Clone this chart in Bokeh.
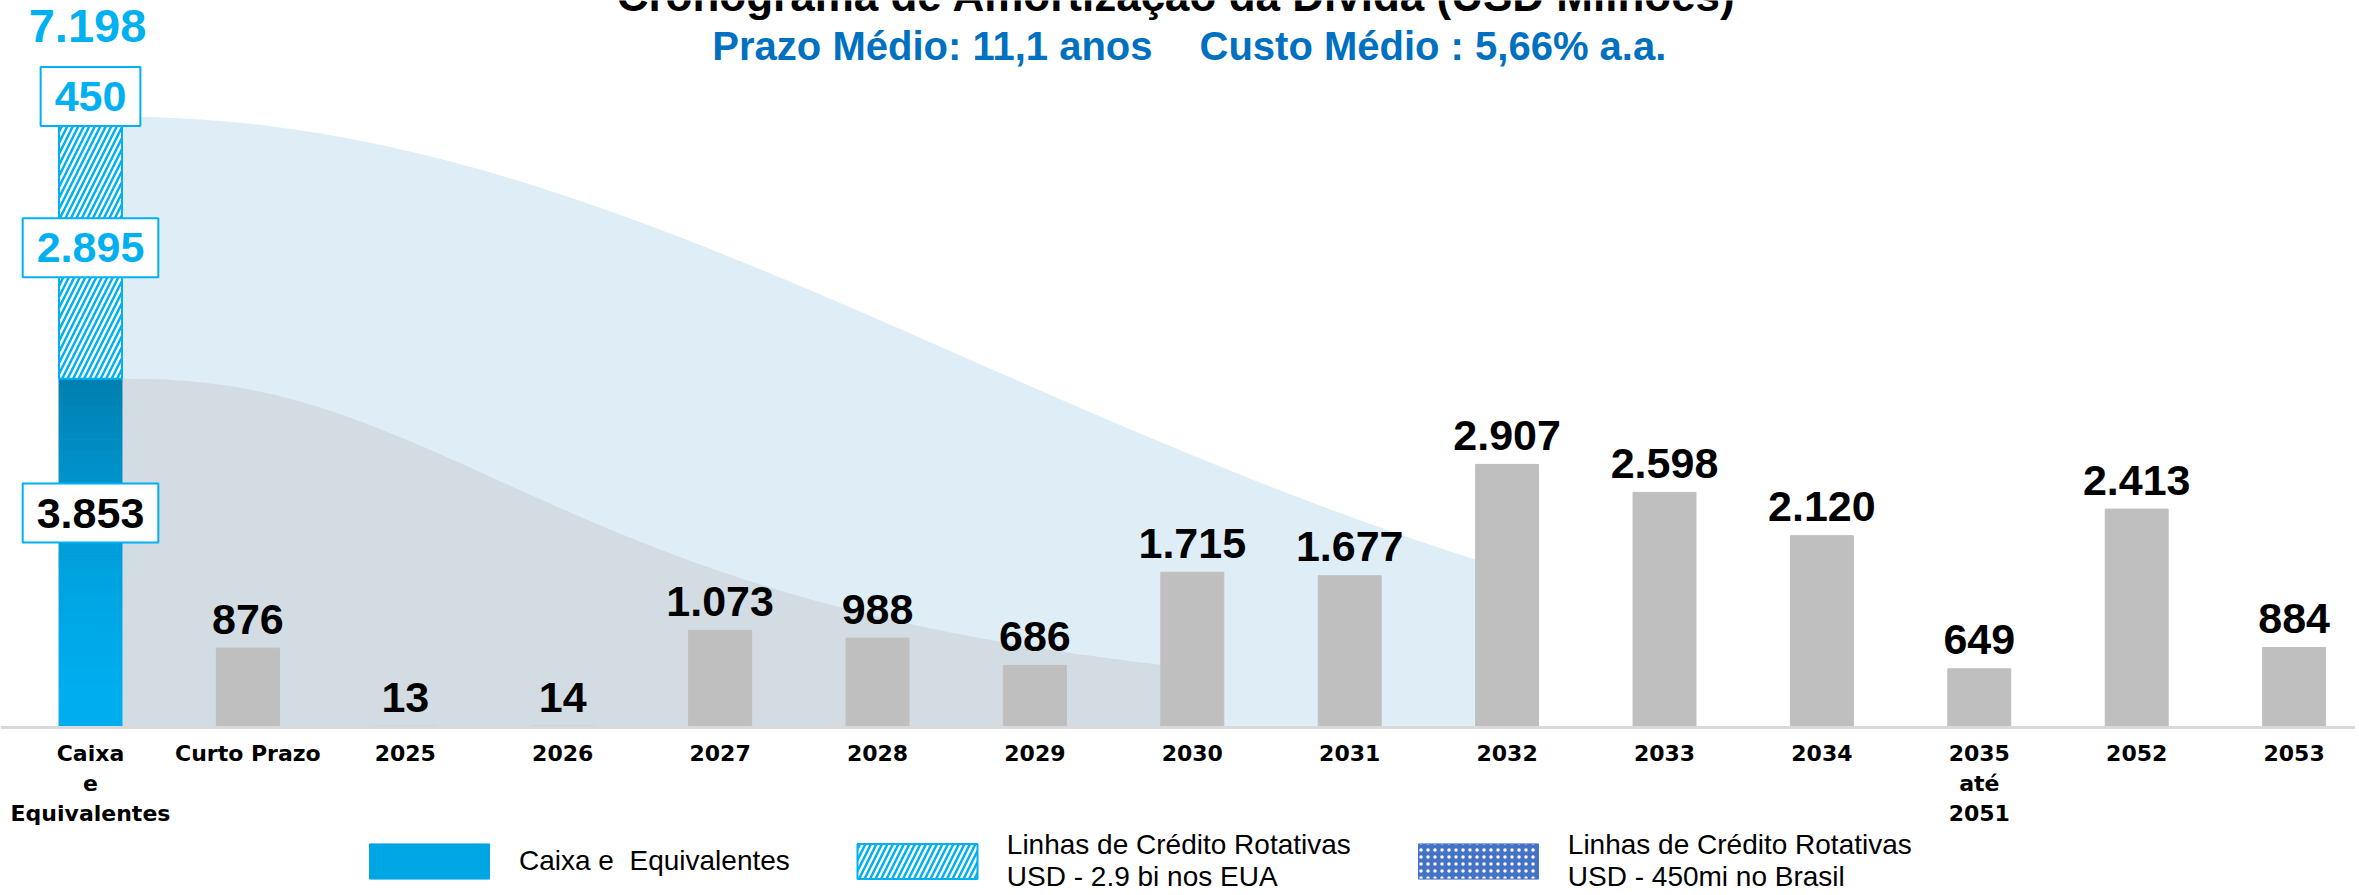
import numpy as np
from bokeh.plotting import figure
from bokeh.models import (ColumnDataSource, Range1d, FixedTicker, Label, Legend, LegendItem,
                          LinearAxis)
from bokeh.core.properties import value
from bokeh.embed import file_html
from bokeh.resources import INLINE

# ---------------- data ----------------
categories = ["Caixa\ne\nEquivalentes", "Curto Prazo", "2025", "2026", "2027", "2028",
              "2029", "2030", "2031", "2032", "2033", "2034", "2035\naté\n2051", "2052", "2053"]
debt_categories = categories[1:]
debt_values = [876, 13, 14, 1073, 988, 686, 1715, 1677, 2907, 2598, 2120, 649, 2413, 884]
cash_value = 3853
credit_usa_value = 2895
credit_brasil_value = 450
liquidity_total = 7198

title_text = "Cronograma de Amortização da Dívida (USD Milhões)"
subtitle_left = "Prazo Médio: 11,1 anos"
subtitle_right = "Custo Médio : 5,66% a.a."
legend_labels = ["Caixa e  Equivalentes",
                 "Linhas de Crédito Rotativas\nUSD - 2.9 bi nos EUA",
                 "Linhas de Crédito Rotativas\nUSD - 450mi no Brasil"]


def br(v):
    return f"{v:,}".replace(",", ".")


# ---------------- figure ----------------
W, H = 2355, 893
BASE = 727            # pixel row of the category axis
PX_PER_CAT = 157.4
PX_PER_UNIT = 0.0905
x0 = -90 / PX_PER_CAT
p = figure(width=W, height=H, output_backend="svg", toolbar_location=None,
           x_range=Range1d(x0, x0 + W / PX_PER_CAT),
           y_range=Range1d(-(H - BASE) / PX_PER_UNIT, BASE / PX_PER_UNIT),
           x_axis_location=None, y_axis_location=None, min_border_left=0, min_border_right=0,
           min_border_top=0, min_border_bottom=0)
p.outline_line_color = None
p.xgrid.visible = False
p.ygrid.visible = False
p.background_fill_color = "white"
p.border_fill_color = "white"

BAR_W = 0.40

# ---------------- decorative background bands ----------------
x_blue = np.linspace(BAR_W / 2, 9 - BAR_W / 2, 200)
blue_top = (cash_value + credit_usa_value) * np.exp(-((x_blue - BAR_W / 2) ** 2) / (2 * 5.35 ** 2))
p.varea(x=x_blue, y1=0, y2=blue_top, fill_color="#DFEEF6")

x_gray = np.linspace(BAR_W / 2, 7 - BAR_W / 2, 200)
gray_top = cash_value / (1 + ((x_gray - BAR_W / 2) / 3.48) ** 2.37)
p.varea(x=x_gray, y1=0, y2=gray_top, fill_color="#D3DCE2")

# ---------------- liquidity bar (cash gradient, credit lines) ----------------
def hex_lerp(c1, c2, t):
    a = [int(c1[i:i + 2], 16) for i in (1, 3, 5)]
    b = [int(c2[i:i + 2], 16) for i in (1, 3, 5)]
    return "#" + "".join(f"{int(round(a[k] + (b[k] - a[k]) * t)):02x}" for k in range(3))

n_slices = 40
edges = np.linspace(0, cash_value, n_slices + 1)
cash_src = ColumnDataSource(dict(
    x=[0] * n_slices, bottom=edges[:-1], top=edges[1:],
    color=[hex_lerp("#00AEEF", "#0080B2", (i / (n_slices - 1)) ** 1.6) for i in range(n_slices)]))
cash_r = p.vbar(x="x", bottom="bottom", top="top", width=BAR_W, source=cash_src,
                fill_color="color", line_color="color", line_width=1)

usa_r = p.vbar(x=[0], bottom=[cash_value], top=[cash_value + credit_usa_value], width=BAR_W,
               fill_color="white", line_color="#00B0F0", line_width=2,
               hatch_pattern="right_diagonal_line", hatch_color="#00B0F0",
               hatch_scale=11, hatch_weight=2.5)

bra_r = p.vbar(x=[0], bottom=[cash_value + credit_usa_value],
               top=[cash_value + credit_usa_value + credit_brasil_value], width=BAR_W,
               fill_color="#4472C4", line_color="#4472C4", line_width=1,
               hatch_pattern="dot", hatch_color="white", hatch_scale=7, hatch_weight=2)

# ---------------- amortization bars ----------------
debt_x = list(range(1, len(categories)))
debt_src = ColumnDataSource(dict(x=debt_x, top=debt_values, label=[br(v) for v in debt_values]))
p.vbar(x="x", top="top", width=BAR_W, source=debt_src, fill_color="#BFBFBF", line_color="#BFBFBF")

p.text(x="x", y="top", text="label", source=debt_src, text_align="center",
       text_baseline="alphabetic", y_offset=-29, text_color="black",
       text_font=value("Liberation Sans"), text_font_style="bold", text_font_size="43px")

# total liquidity label
p.text(x=[0], y=[liquidity_total], text=[br(liquidity_total)], text_align="center",
       text_baseline="alphabetic", y_offset=-50, x_offset=-3, text_color="#00B0F0",
       text_font=value("Liberation Sans"), text_font_style="bold", text_font_size="47px")

# boxed segment labels
box_src = ColumnDataSource(dict(
    x=[0, 0, 0],
    y=[cash_value * 0.615,
       cash_value + credit_usa_value / 2,
       cash_value + credit_usa_value + credit_brasil_value / 2],
    text=[br(cash_value), br(credit_usa_value), br(credit_brasil_value)],
    color=["black", "#00B0F0", "#00B0F0"]))
p.text(x="x", y="y", text="text", source=box_src, text_align="center", text_baseline="middle",
       text_color="color", text_font=value("Liberation Sans"), text_font_style="bold",
       text_font_size="43px", background_fill_color="white", border_line_color="#00B0F0",
       border_line_width=2, padding=dict(left=14, right=14, top=15, bottom=15))

# ---------------- category axis (fixed at zero) ----------------
ax = LinearAxis(fixed_location=0)
ax.ticker = FixedTicker(ticks=list(range(len(categories))))
ax.major_label_overrides = {i: c for i, c in enumerate(categories)}
ax.axis_line_color = "#D9D9D9"
ax.axis_line_width = 3
ax.major_tick_line_color = None
ax.minor_tick_line_color = None
ax.major_label_standoff = 7
ax.major_label_text_font = "DejaVu Sans"
ax.major_label_text_font_style = "bold"
ax.major_label_text_font_size = "22px"
ax.major_label_text_color = "black"
p.add_layout(ax, "below")

# ---------------- titles ----------------
def sy(page_y):
    return H - page_y

p.add_layout(Label(x=1176, y=sy(-5), x_units="screen", y_units="screen", text=title_text,
                   text_align="center", text_baseline="alphabetic", text_font="Liberation Sans",
                   text_font_style="bold", text_font_size="44px", text_color="black"))
p.add_layout(Label(x=1152, y=sy(45), x_units="screen", y_units="screen", text=subtitle_left,
                   text_align="right", text_baseline="alphabetic", text_font="Liberation Sans",
                   text_font_style="bold", text_font_size="40px", text_color="#0070C0"))
p.add_layout(Label(x=1199, y=sy(45), x_units="screen", y_units="screen", text=subtitle_right,
                   text_align="left", text_baseline="alphabetic", text_font="Liberation Sans",
                   text_font_style="bold", text_font_size="40px", text_color="#0070C0"))

# ---------------- legend ----------------
legend = Legend(items=[LegendItem(label=legend_labels[0], renderers=[cash_r], index=n_slices // 3),
                       LegendItem(label=legend_labels[1], renderers=[usa_r]),
                       LegendItem(label=legend_labels[2], renderers=[bra_r])],
                location=(354, 0), orientation="horizontal",
                glyph_width=150, glyph_height=44, label_standoff=15, spacing=52,
                padding=0, margin=0, border_line_color=None, background_fill_alpha=0,
                label_text_font="Liberation Sans", label_text_font_size="28px",
                label_text_color="black")
p.add_layout(legend)

open("out.html", "w").write(file_html(p, INLINE))
